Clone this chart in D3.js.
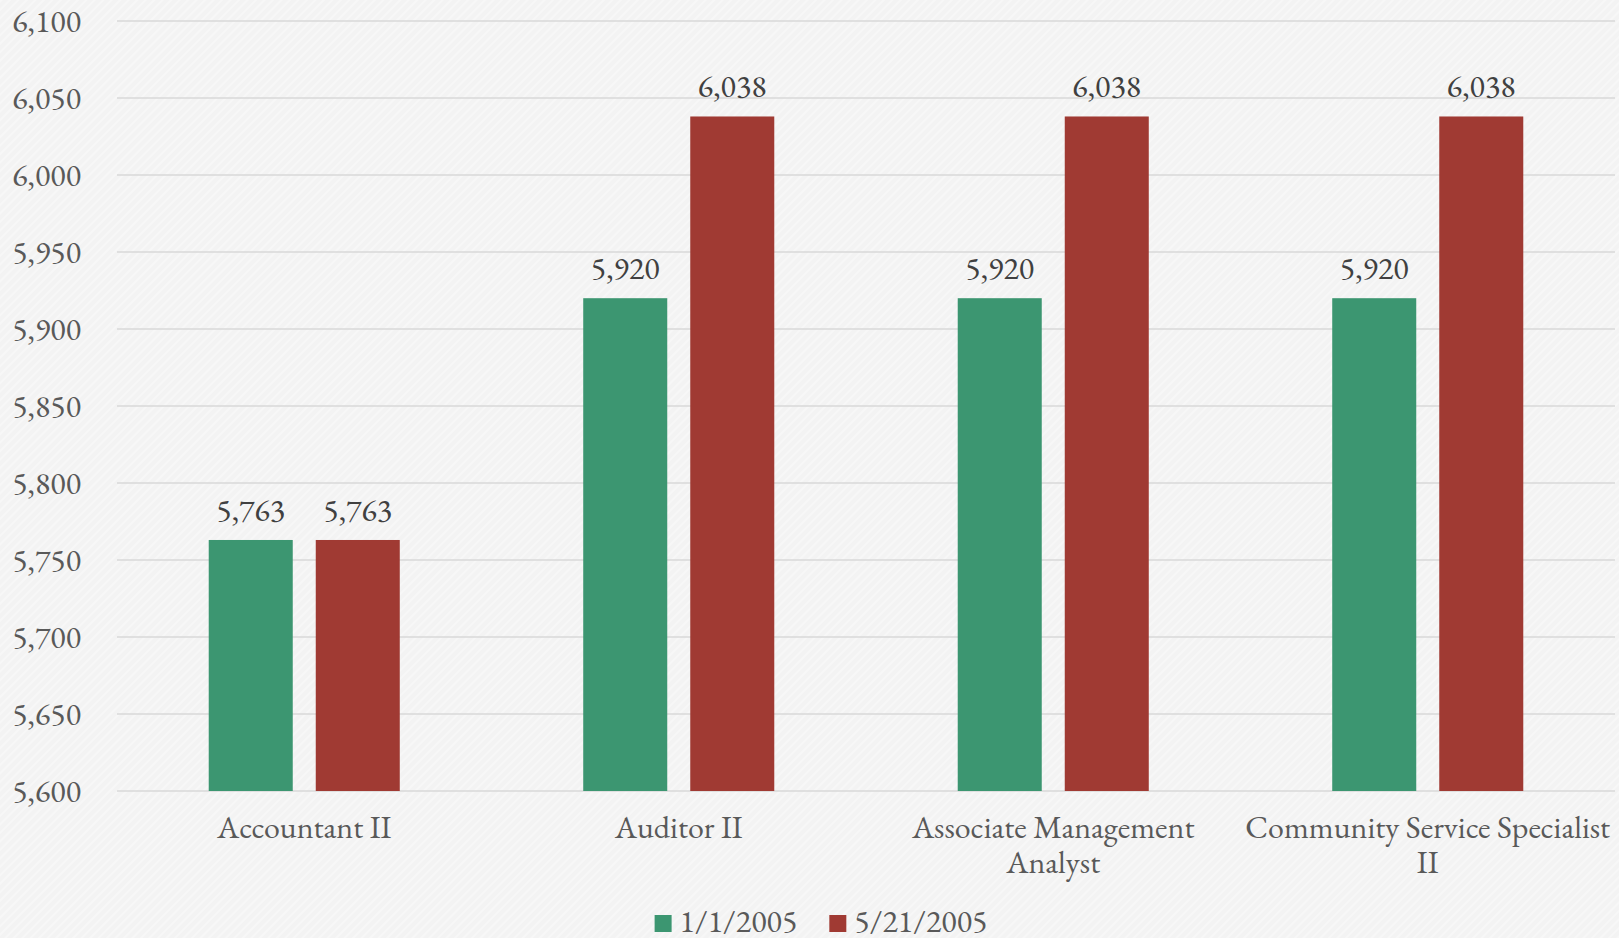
<!DOCTYPE html>
<html>
<head>
<meta charset="utf-8">
<script src="https://cdn.jsdelivr.net/npm/d3@7"></script>
<style>
  html, body { margin: 0; padding: 0; background: #f3f3f3; }
  svg { display: block; }
  text { font-family: "EB Garamond", Garamond, "Liberation Serif", "DejaVu Serif", serif; }
</style>
</head>
<body>
<svg id="chart" width="1619" height="938"></svg>
<script>
// Salary by position, two effective dates
const categories = ["Accountant II", "Auditor II", "Associate Management Analyst", "Community Service Specialist II"];
const seriesNames = ["1/1/2005", "5/21/2005"];
const valuesJan = [5763, 5920, 5920, 5920];
const valuesMay = [5763, 6038, 6038, 6038];
const seriesColors = ["#3c9671", "#a03a33"];
const yTicks = [5600, 5650, 5700, 5750, 5800, 5850, 5900, 5950, 6000, 6050, 6100];

const W = 1619, H = 938;
const margin = { left: 117, right: 4, top: 21, bottom: 147 };
const fontSize = "32px";
const svg = d3.select("#chart");

// subtle diagonal paper texture
const defs = svg.append("defs");
const pat = defs.append("pattern")
  .attr("id", "paper")
  .attr("width", 6).attr("height", 6)
  .attr("patternUnits", "userSpaceOnUse")
  .attr("patternTransform", "rotate(45)");
pat.append("rect").attr("width", 6).attr("height", 6).attr("fill", "#f3f3f3");
pat.append("rect").attr("width", 2).attr("height", 6).attr("fill", "#f7f7f7");
svg.append("rect").attr("width", W).attr("height", H).attr("fill", "url(#paper)");

const x0 = d3.scaleBand()
  .domain(categories)
  .range([margin.left, W - margin.right])
  .paddingInner(0).paddingOuter(0);

const x1 = d3.scaleBand()
  .domain(seriesNames)
  .range([0, x0.bandwidth()])
  .paddingInner(0.215)
  .paddingOuter(0.857);

const y = d3.scaleLinear()
  .domain([5600, 6100])
  .range([H - margin.bottom, margin.top]);

const fmt = d3.format(",");

// gridlines
svg.append("g")
  .selectAll("line")
  .data(yTicks)
  .join("line")
  .attr("x1", margin.left).attr("x2", W - margin.right)
  .attr("y1", d => y(d)).attr("y2", d => y(d))
  .attr("stroke", "#d9d9d9").attr("stroke-width", 1.5);

// y-axis labels
const yAxis = d3.axisLeft(y).tickValues(yTicks).tickFormat(fmt).tickSize(0).tickPadding(0);
const yg = svg.append("g").attr("transform", "translate(81,0)").call(yAxis);
yg.select(".domain").remove();
yg.selectAll("text")
  .attr("fill", "#595959")
  .style("font-size", fontSize)
  .style("font-family", "\"EB Garamond\", Garamond, \"Liberation Serif\", \"DejaVu Serif\", serif");

// rows of data
const rows = categories.map((c, i) => ({
  category: c,
  values: [
    { series: seriesNames[0], value: valuesJan[i] },
    { series: seriesNames[1], value: valuesMay[i] }
  ]
}));

const groups = svg.append("g")
  .selectAll("g")
  .data(rows)
  .join("g")
  .attr("transform", d => `translate(${x0(d.category)},0)`);

groups.selectAll("rect")
  .data(d => d.values)
  .join("rect")
  .attr("x", d => x1(d.series))
  .attr("width", x1.bandwidth())
  .attr("y", d => y(d.value))
  .attr("height", d => y(5600) - y(d.value))
  .attr("fill", (d, i) => seriesColors[i]);

groups.selectAll("text.value")
  .data(d => d.values)
  .join("text")
  .attr("class", "value")
  .attr("x", d => x1(d.series) + x1.bandwidth() / 2)
  .attr("y", d => y(d.value) - 19)
  .attr("text-anchor", "middle")
  .attr("fill", "#404040")
  .style("font-size", fontSize)
  .text(d => fmt(d.value));

// category labels, wrapped to the band width
const xAxisG = svg.append("g");
categories.forEach(c => {
  const cx = x0(c) + x0.bandwidth() / 2;
  const t = xAxisG.append("text")
    .attr("x", cx)
    .attr("y", y(5600) + 47)
    .attr("text-anchor", "middle")
    .attr("fill", "#595959")
    .style("font-size", fontSize);
  const words = c.split(" ");
  const maxW = x0.bandwidth() - 6;
  let line = [];
  let tspan = t.append("tspan").attr("x", cx).attr("dy", 0);
  words.forEach(w => {
    line.push(w);
    tspan.text(line.join(" "));
    if (tspan.node().getComputedTextLength() > maxW && line.length > 1) {
      line.pop();
      tspan.text(line.join(" "));
      line = [w];
      tspan = t.append("tspan")
        .attr("x", cx)
        .attr("dy", 35)
        .text(w);
    }
  });
});

// legend
const legend = svg.append("g");
let lx = 0;
seriesNames.forEach((s, i) => {
  const item = legend.append("g").attr("transform", `translate(${lx},0)`);
  item.append("rect")
    .attr("x", 0).attr("y", -17)
    .attr("width", 17).attr("height", 17)
    .attr("fill", seriesColors[i]);
  const txt = item.append("text")
    .attr("x", 25).attr("y", 0)
    .attr("fill", "#595959")
    .style("font-size", fontSize)
    .text(s);
  lx += 25 + txt.node().getComputedTextLength() + 32;
});
const legendW = lx - 32;
legend.attr("transform", `translate(${821 - legendW / 2},932)`);
</script>
</body>
</html>
